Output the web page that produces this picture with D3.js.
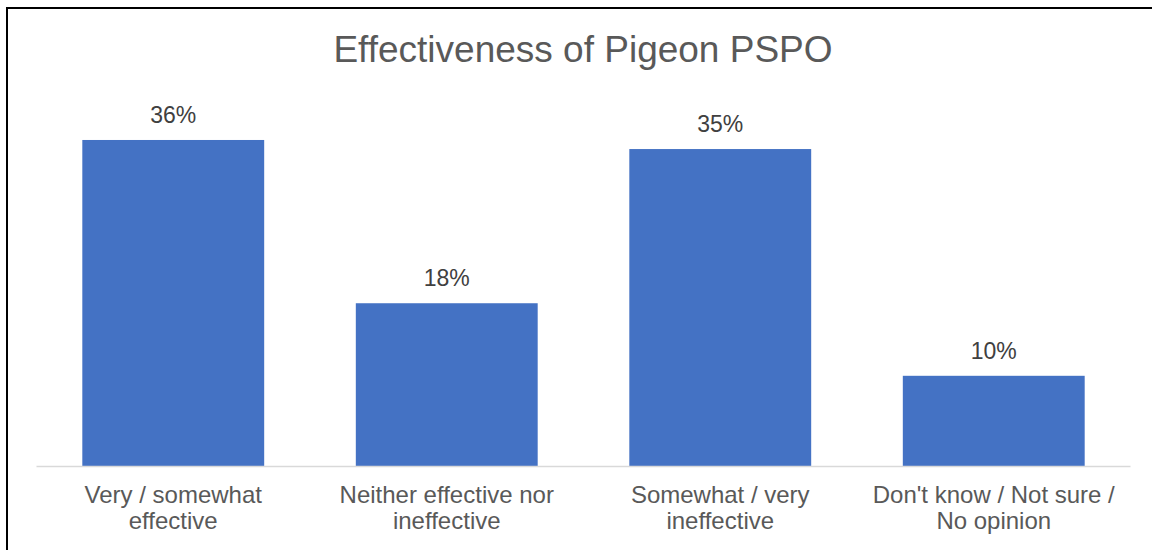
<!DOCTYPE html>
<html>
<head>
<meta charset="utf-8">
<script src="https://cdn.jsdelivr.net/npm/d3@7"></script>
<style>
    body { margin: 0; background: #fff; }
    svg { display: block; font-family: "Liberation Sans", Arial, sans-serif; }
</style>
</head>
<body>
<svg width="1152" height="550"></svg>
<script>
"use strict";

// Chart data
var categories = [
    ["Very / somewhat", "effective"],
    ["Neither effective nor", "ineffective"],
    ["Somewhat / very", "ineffective"],
    ["Don't know / Not sure /", "No opinion"]
];
var values = [36, 18, 35, 10];
var title = "Effectiveness of Pigeon PSPO";

var svg = d3.select("svg");

// Outer frame
svg.append("rect")
    .attr("x", 7)
    .attr("y", 8)
    .attr("width", 1160)
    .attr("height", 560)
    .attr("fill", "none")
    .attr("stroke", "#000")
    .attr("stroke-width", 2);

// Scales
var xScale = d3.scaleBand()
    .domain(d3.range(values.length))
    .range([36.5, 1130.5])
    .paddingInner(0.335)
    .paddingOuter(0.1675);

var yScale = d3.scaleLinear()
    .domain([0, 40])
    .range([466.5, 103.7]);

// Title
svg.append("text")
    .attr("x", 583)
    .attr("y", 62)
    .attr("text-anchor", "middle")
    .attr("fill", "#595959")
    .style("font-size", "37px")
    .text(title);

// Bars
svg.append("g")
    .selectAll("rect")
    .data(values)
    .enter().append("rect")
    .attr("x", function(d, i) { return xScale(i); })
    .attr("y", function(d) { return yScale(d); })
    .attr("width", xScale.bandwidth())
    .attr("height", function(d) { return yScale(0) - yScale(d); })
    .attr("fill", "#4472C4");

// Value labels
svg.append("g")
    .selectAll("text")
    .data(values)
    .enter().append("text")
    .attr("x", function(d, i) { return xScale(i) + xScale.bandwidth() / 2; })
    .attr("y", function(d) { return yScale(d) - 17; })
    .attr("text-anchor", "middle")
    .attr("fill", "#404040")
    .style("font-size", "23px")
    .text(function(d) { return d + "%"; });

// Baseline
svg.append("line")
    .attr("x1", xScale.range()[0])
    .attr("x2", xScale.range()[1])
    .attr("y1", yScale(0))
    .attr("y2", yScale(0))
    .attr("stroke", "#D9D9D9")
    .attr("stroke-width", 1.5);

// Category labels
var cats = svg.append("g")
    .selectAll("text")
    .data(categories)
    .enter().append("text")
    .attr("text-anchor", "middle")
    .attr("fill", "#595959")
    .style("font-size", "24px");

cats.selectAll("tspan")
    .data(function(d, i) { return d.map(function(t) { return { t: t, i: i }; }); })
    .enter().append("tspan")
    .attr("x", function(d) { return xScale(d.i) + xScale.bandwidth() / 2; })
    .attr("y", function(d, j) { return 503 + j * 26; })
    .text(function(d) { return d.t; });
</script>
</body>
</html>
